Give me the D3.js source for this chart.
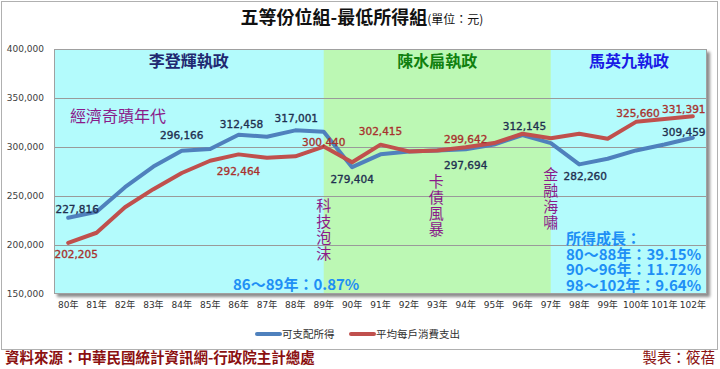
<!DOCTYPE html>
<html>
<head>
<meta charset="utf-8" />
<script src="https://cdn.jsdelivr.net/npm/d3@7"></script>
<style>
  body { margin: 0; background: #fff; }
  svg { display: block; }
  text { font-family: "DejaVu Sans", "Noto Sans CJK TC", sans-serif; }
  .cjk { font-family: "Noto Sans CJK TC", sans-serif; }
</style>
</head>
<body>
<div id="chart"></div>
<script>
// data
const years = ["80年","81年","82年","83年","84年","85年","86年","87年","88年","89年","90年","91年",
  "92年","93年","94年","95年","96年","97年","98年","99年","100年","101年","102年"];
const income = [227816, 234000, 259000, 280000, 296166, 298000, 312458, 310500, 317001, 315500, 279404, 292500,
  295500, 296500, 297694, 302500, 312145, 304000, 282260, 288000, 296500, 302500, 309459];
const spending = [202205, 212500, 238500, 257000, 273500, 286000, 292464, 289000, 290500, 300440, 284500, 302415,
  295500, 296500, 299642, 304000, 313500, 309000, 313500, 308500, 325660, 328500, 331391];
const seriesNames = ["可支配所得", "平均每戶消費支出"];
const yTicks = [150000, 200000, 250000, 300000, 350000, 400000];
const eraNames = ["李登輝執政", "陳水扁執政", "馬英九執政"];
const eraFrom = ["80年", "89年", "97年"];
const eraTo = ["89年", "97年", "102年"];
const incomeLabelIdx = [0, 4, 6, 8, 10, 14, 16, 18, 22];
const spendingLabelIdx = [0, 6, 9, 11, 14, 20, 22];
const events = ["科技泡沫", "卡債風暴", "金融海嘯"];
const eventYears = ["89年", "93年", "97年"];
const growthLines = ["所得成長：", "80～88年：39.15%", "90～96年：11.72%", "98～102年：9.64%"];

const W = 720, H = 369;
const plot = { left: 54, right: 707, top: 49, bottom: 294 };

const svg = d3.select("#chart").append("svg").attr("width", W).attr("height", H);

const defs = svg.append("defs");
const f = defs.append("filter").attr("id", "shadow").attr("x", "-5%").attr("y", "-5%")
  .attr("width", "110%").attr("height", "115%");
f.append("feDropShadow").attr("dx", 3).attr("dy", 3).attr("stdDeviation", 1.5)
  .attr("flood-color", "#000").attr("flood-opacity", 0.45);

// outer frame
svg.append("rect").attr("x", 1.5).attr("y", 1.5).attr("width", 716).attr("height", 348)
  .attr("fill", "#fff").attr("stroke", "#b0b0b0");

const x = d3.scaleBand().domain(years).range([plot.left, plot.right]);
const cx = d => x(d) + x.bandwidth() / 2;
const y = d3.scaleLinear().domain([150000, 400000]).range([plot.bottom, plot.top]);

// plot background with shadow
svg.append("rect").attr("x", plot.left).attr("y", plot.top)
  .attr("width", plot.right - plot.left).attr("height", plot.bottom - plot.top)
  .attr("fill", "#b3fbfc").attr("filter", "url(#shadow)");

const eraFill = ["#b3fbfc", "#bcf8b4", "#b3fbfc"];
svg.append("g").selectAll("rect").data(eraNames).join("rect")
  .attr("x", (d, i) => i === 0 ? plot.left : cx(eraFrom[i]))
  .attr("width", (d, i) => (i === 2 ? plot.right : cx(eraTo[i])) - (i === 0 ? plot.left : cx(eraFrom[i])))
  .attr("y", plot.top).attr("height", plot.bottom - plot.top)
  .attr("fill", (d, i) => eraFill[i]);

// gridlines
svg.append("g").selectAll("line").data(yTicks.slice(1, -1)).join("line")
  .attr("x1", plot.left).attr("x2", plot.right)
  .attr("y1", d => y(d) + 0.5).attr("y2", d => y(d) + 0.5)
  .attr("stroke", "#9a9a9a").attr("stroke-width", 1);

svg.append("rect").attr("x", plot.left + 0.5).attr("y", plot.top + 0.5)
  .attr("width", plot.right - plot.left - 1).attr("height", plot.bottom - plot.top - 1)
  .attr("fill", "none").attr("stroke", "#a0a0a0");

// axes
const yAxis = svg.append("g").attr("transform", `translate(${plot.left},0)`)
  .call(d3.axisLeft(y).tickValues(yTicks).tickSize(0).tickPadding(10).tickFormat(d3.format(",")));
yAxis.select(".domain").remove();
yAxis.selectAll("text").attr("font-size", 9).attr("fill", "#404040")
  .style("font-family", "'DejaVu Sans', sans-serif");

const xAxis = svg.append("g").attr("transform", `translate(0,${plot.bottom})`)
  .call(d3.axisBottom(x).tickSize(0).tickPadding(8));
xAxis.select(".domain").remove();
xAxis.selectAll("text").attr("font-size", 9).attr("fill", "#303030")
  .style("font-family", "'DejaVu Sans', 'Noto Sans CJK TC', sans-serif");

// era titles
const eraColor = ["#1f2870", "#10800f", "#1a1ae6"];
svg.append("g").selectAll("text").data(eraNames).join("text")
  .attr("class", "cjk")
  .attr("x", (d, i) => ((i === 0 ? plot.left : cx(eraFrom[i])) + (i === 2 ? plot.right : cx(eraTo[i]))) / 2)
  .attr("y", 67).attr("text-anchor", "middle")
  .attr("font-size", 16).attr("font-weight", "bold")
  .attr("fill", (d, i) => eraColor[i]).text(d => d);

// lines
const colors = ["#4f81bd", "#c0504d"];
const line = d3.line().x((d, i) => cx(years[i])).y(d => y(d));
[income, spending].forEach((s, k) => {
  svg.append("path").datum(s).attr("d", line)
    .attr("fill", "none").attr("stroke", colors[k]).attr("stroke-width", 4)
    .attr("stroke-linejoin", "round").attr("stroke-linecap", "round");
});

// data labels
const fmt = d3.format(",");
const incomeOff = { 0: [9, -5], 4: [0, -12], 6: [3, -7], 8: [1, -8], 10: [0, 16], 14: [0, 20], 16: [2, -5], 18: [6, 16], 22: [-9, -2] };
const spendOff = { 0: [8, 15], 6: [0, 21], 9: [0, -1], 11: [0, -10], 14: [0, -4], 20: [2, -5], 22: [-9, -3] };
const labelColor = ["#1f3050", "#a8322e"];
function drawLabels(values, idx, off, color) {
  svg.append("g").selectAll("text").data(idx).join("text")
    .attr("x", i => cx(years[i]) + off[i][0])
    .attr("y", i => y(values[i]) + off[i][1])
    .attr("text-anchor", "middle").attr("font-size", 10.5)
    .attr("fill", color).attr("stroke", color).attr("stroke-width", 0.35)
    .text(i => fmt(values[i]));
}
drawLabels(income, incomeLabelIdx, incomeOff, labelColor[0]);
drawLabels(spending, spendingLabelIdx, spendOff, labelColor[1]);

// event annotations (vertical)
const eventTop = [206, 182, 175];
const purple = "#8a1a8a";
events.forEach((ev, k) => {
  const t = svg.append("text").attr("class", "cjk").attr("font-size", 15).attr("fill", purple)
    .attr("text-anchor", "middle");
  Array.from(ev).forEach((ch, j) => {
    t.append("tspan").attr("x", cx(eventYears[k]) + (k === 1 ? -1 : 0))
      .attr("y", eventTop[k] + j * 16 + 5).text(ch);
  });
});

svg.append("text").attr("class", "cjk").attr("x", 70).attr("y", 122)
  .attr("font-size", 16).attr("fill", purple).text("經濟奇蹟年代");

// growth notes
const noteBlue = "#1e8ff5";
svg.append("text").attr("class", "cjk").attr("x", 233).attr("y", 290)
  .attr("font-size", 15).attr("font-weight", "bold").attr("fill", noteBlue).text("86～89年：0.87%");
svg.append("g").selectAll("text").data(growthLines).join("text")
  .attr("class", "cjk").attr("x", 566).attr("y", (d, i) => 244 + i * 15.6)
  .attr("font-size", 15).attr("font-weight", "bold").attr("fill", noteBlue).text(d => d);

// legend
const legX = [257, 351];
seriesNames.forEach((n, k) => {
  svg.append("line").attr("x1", legX[k]).attr("x2", legX[k] + 23).attr("y1", 334).attr("y2", 334)
    .attr("stroke", colors[k]).attr("stroke-width", 4).attr("stroke-linecap", "round");
  svg.append("text").attr("class", "cjk").attr("x", legX[k] + 25).attr("y", 338)
    .attr("font-size", 10.5).attr("fill", "#303030").text(n);
});

// title
const title = svg.append("text").attr("class", "cjk").attr("x", 362).attr("y", 24)
  .attr("text-anchor", "middle").attr("fill", "#111");
title.append("tspan").attr("font-size", 18).attr("font-weight", "bold").text("五等份位組-最低所得組");
title.append("tspan").attr("font-size", 12).text("(單位：元)");

// footer
svg.append("text").attr("class", "cjk").attr("x", 5).attr("y", 363)
  .attr("font-size", 14.5).attr("font-weight", "bold").attr("fill", "#8b1010")
  .text("資料來源：中華民國統計資訊網-行政院主計總處");
svg.append("text").attr("class", "cjk").attr("x", 715).attr("y", 363).attr("text-anchor", "end")
  .attr("font-size", 14.5).attr("fill", "#8b1010").text("製表：筱蓓");
</script>
</body>
</html>
